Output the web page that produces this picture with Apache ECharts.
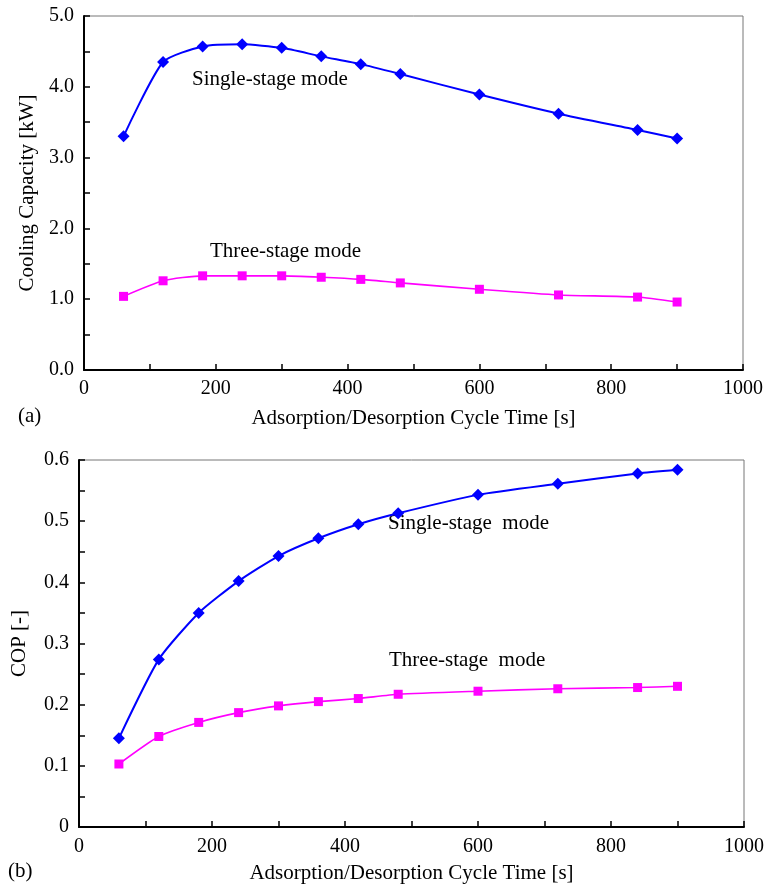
<!DOCTYPE html>
<html>
<head>
<meta charset="utf-8">
<script src="https://cdn.jsdelivr.net/npm/echarts@6/dist/echarts.min.js"></script>
<style>html,body{margin:0;padding:0;background:#fff;}#c{width:767px;height:885px;}</style>
</head>
<body>
<div id="c"></div>
<script>
const cycleTime = [60, 120, 180, 240, 300, 360, 420, 480, 600, 720, 840, 900];
const capSingle = [3.30, 4.35, 4.57, 4.60, 4.55, 4.43, 4.32, 4.18, 3.89, 3.62, 3.39, 3.27];
const capThree  = [1.04, 1.26, 1.33, 1.33, 1.33, 1.31, 1.28, 1.23, 1.14, 1.06, 1.03, 0.96];
const copSingle = [0.145, 0.274, 0.350, 0.402, 0.443, 0.472, 0.495, 0.513, 0.543, 0.561, 0.578, 0.584];
const copThree  = [0.103, 0.148, 0.171, 0.187, 0.198, 0.205, 0.210, 0.217, 0.222, 0.226, 0.228, 0.230];
const xTitle = 'Adsorption/Desorption Cycle Time [s]';
const yTitleA = 'Cooling Capacity [kW]';
const yTitleB = 'COP [-]';

const FONT = '"Liberation Serif", "Times New Roman", serif';
const pairs = (xs, ys) => xs.map((x, i) => [x, ys[i]]);

function xAxisDef(gi) {
  return {
    type: 'value', gridIndex: gi, min: 0, max: 1000, interval: 100,
    name: xTitle, nameLocation: 'middle', nameGap: gi === 0 ? 38 : 36,
    nameTextStyle: { fontFamily: FONT, fontSize: 21, color: '#000' },
    axisLine: { show: true, onZero: false, lineStyle: { color: '#000', width: 2 } },
    axisTick: { show: true, inside: true, length: 6, lineStyle: { color: '#000', width: 1.5 } },
    axisLabel: {
      fontFamily: FONT, fontSize: 20, color: '#000', margin: gi === 0 ? 9 : 10,
      formatter: v => (Math.round(v) % 200 === 0 ? String(v) : '')
    },
    splitLine: { show: false }
  };
}

const chart = echarts.init(document.getElementById('c'), null, { renderer: 'canvas' });
chart.setOption({
  backgroundColor: '#fff',
  animation: false,
  grid: [
    { left: 84, top: 16, width: 659, height: 354, show: true, borderColor: '#777', borderWidth: 1 },
    { left: 79, top: 460, width: 665, height: 367, show: true, borderColor: '#777', borderWidth: 1 }
  ],
  xAxis: [xAxisDef(0), xAxisDef(1)],
  yAxis: [
    {
      type: 'value', gridIndex: 0, min: 0, max: 5, interval: 0.5,
      name: yTitleA, nameLocation: 'middle', nameGap: 44, nameRotate: 90,
      nameTextStyle: { fontFamily: FONT, fontSize: 21, color: '#000' },
      axisLine: { show: true, onZero: false, lineStyle: { color: '#000', width: 2 } },
      axisTick: { show: true, inside: true, length: 6, lineStyle: { color: '#000', width: 1.5 } },
      axisLabel: {
        fontFamily: FONT, fontSize: 20, color: '#000', margin: 10,
        formatter: v => (Math.round(v * 2) % 2 === 0 ? v.toFixed(1) : '')
      },
      splitLine: { show: false }
    },
    {
      type: 'value', gridIndex: 1, min: 0, max: 0.6, interval: 0.05,
      name: yTitleB, nameLocation: 'middle', nameGap: 49, nameRotate: 90,
      nameTextStyle: { fontFamily: FONT, fontSize: 21, color: '#000' },
      axisLine: { show: true, onZero: false, lineStyle: { color: '#000', width: 2 } },
      axisTick: { show: true, inside: true, length: 6, lineStyle: { color: '#000', width: 1.5 } },
      axisLabel: {
        fontFamily: FONT, fontSize: 20, color: '#000', margin: 10,
        formatter: v => {
          const k = Math.round(v * 20);
          if (k % 2 !== 0) return '';
          return k === 0 ? '0' : (k / 20).toFixed(1);
        }
      },
      splitLine: { show: false }
    }
  ],
  series: [
    { type: 'line', xAxisIndex: 0, yAxisIndex: 0, data: pairs(cycleTime, capSingle), smooth: 0.2,
      symbol: 'diamond', symbolSize: 12, lineStyle: { color: '#0000ff', width: 2 }, itemStyle: { color: '#0000ff' } },
    { type: 'line', xAxisIndex: 0, yAxisIndex: 0, data: pairs(cycleTime, capThree), smooth: 0.2,
      symbol: 'rect', symbolSize: 9, lineStyle: { color: '#ff00ff', width: 1.6 }, itemStyle: { color: '#ff00ff' } },
    { type: 'line', xAxisIndex: 1, yAxisIndex: 1, data: pairs(cycleTime, copSingle), smooth: 0.2,
      symbol: 'diamond', symbolSize: 12, lineStyle: { color: '#0000ff', width: 2 }, itemStyle: { color: '#0000ff' } },
    { type: 'line', xAxisIndex: 1, yAxisIndex: 1, data: pairs(cycleTime, copThree), smooth: 0.2,
      symbol: 'rect', symbolSize: 9, lineStyle: { color: '#ff00ff', width: 1.6 }, itemStyle: { color: '#ff00ff' } }
  ],
  graphic: [
    { type: 'text', left: 192, top: 69, style: { text: 'Single-stage mode', font: '21px ' + FONT, fill: '#000' } },
    { type: 'text', left: 210, top: 241, style: { text: 'Three-stage mode', font: '21px ' + FONT, fill: '#000' } },
    { type: 'text', left: 388, top: 513, style: { text: 'Single-stage  mode', font: '21px ' + FONT, fill: '#000' } },
    { type: 'text', left: 389, top: 650, style: { text: 'Three-stage  mode', font: '21px ' + FONT, fill: '#000' } },
    { type: 'text', left: 18, top: 406, style: { text: '(a)', font: '21px ' + FONT, fill: '#000' } },
    { type: 'text', left: 8, top: 861, style: { text: '(b)', font: '21px ' + FONT, fill: '#000' } }
  ]
});
</script>
</body>
</html>
